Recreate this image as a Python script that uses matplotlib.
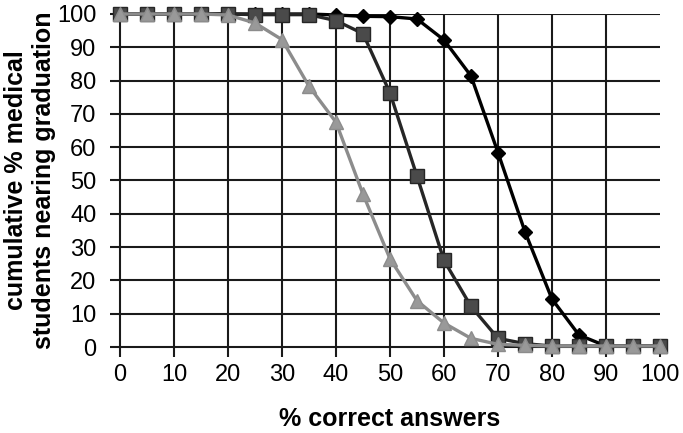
import matplotlib
matplotlib.use("Agg")
import matplotlib.pyplot as plt

x_values = [0, 5, 10, 15, 20, 25, 30, 35, 40, 45, 50, 55, 60, 65, 70, 75, 80, 85, 90, 95, 100]
diamond_series = [100, 100, 100, 100, 100, 100, 100, 100, 99.7, 99.3, 99.2, 98.5, 92.2, 81.4, 58.4, 34.6, 14.4, 3.6, 0.3, 0.3, 0.3]
square_series = [100, 100, 100, 100, 100, 99.8, 99.8, 99.8, 98.0, 94.1, 76.3, 51.3, 26.0, 12.2, 2.6, 1.0, 0.3, 0.3, 0.3, 0.3, 0.3]
triangle_series = [100, 100, 100, 100, 99.7, 97.3, 92.3, 78.3, 67.5, 45.9, 26.5, 13.9, 7.2, 2.6, 0.8, 0.5, 0.3, 0.3, 0.3, 0.3, 0.3]
x_ticks = [0, 10, 20, 30, 40, 50, 60, 70, 80, 90, 100]
y_ticks = [0, 10, 20, 30, 40, 50, 60, 70, 80, 90, 100]

plt.rcParams['font.family'] = ['Liberation Sans', 'DejaVu Sans']

fig = plt.figure(figsize=(6.83, 4.33), dpi=100)
ax = fig.add_axes([0.1757, 0.1986, 0.7906, 0.7691])

ax.set_xlim(0, 100)
ax.set_ylim(0, 100)

for yv in y_ticks[1:]:
    ax.axhline(yv, color='#1a1a1a', lw=1.5, zorder=1)
for xv in x_ticks[1:-1]:
    ax.axvline(xv, color='#1a1a1a', lw=1.5, zorder=1)

ax.plot(x_values, triangle_series, color='#8c8c8c', lw=2.4, marker='^', ms=10,
        markerfacecolor='#999999', markeredgecolor='#8c8c8c', zorder=5, clip_on=False)
ax.plot(x_values, square_series, color='#262626', lw=2.4, marker='s', ms=9.5,
        markerfacecolor='#4a4a4a', markeredgecolor='#262626', zorder=4, clip_on=False)
ax.plot(x_values, diamond_series, color='#000000', lw=2.4, marker='D', ms=7.5,
        markerfacecolor='#000000', markeredgecolor='#000000', zorder=3, clip_on=False)

for s in ['top', 'right']:
    ax.spines[s].set_visible(False)
for s in ['left', 'bottom']:
    ax.spines[s].set_color('#1a1a1a')
    ax.spines[s].set_linewidth(1.5)

ax.set_xticks(x_ticks)
ax.set_yticks(y_ticks)
ax.tick_params(axis='both', direction='out', length=7, width=1.5, color='#1a1a1a',
               labelsize=17)
ax.tick_params(axis='x', pad=5)
ax.tick_params(axis='y', pad=10)

ax.set_xlabel('% correct answers', fontsize=18, fontweight='bold', labelpad=15)
ax.set_ylabel('cumulative % medical\nstudents nearing graduation', fontsize=18,
              fontweight='bold', labelpad=1, linespacing=1.2)

fig.savefig('out.png', dpi=100, facecolor='white')
